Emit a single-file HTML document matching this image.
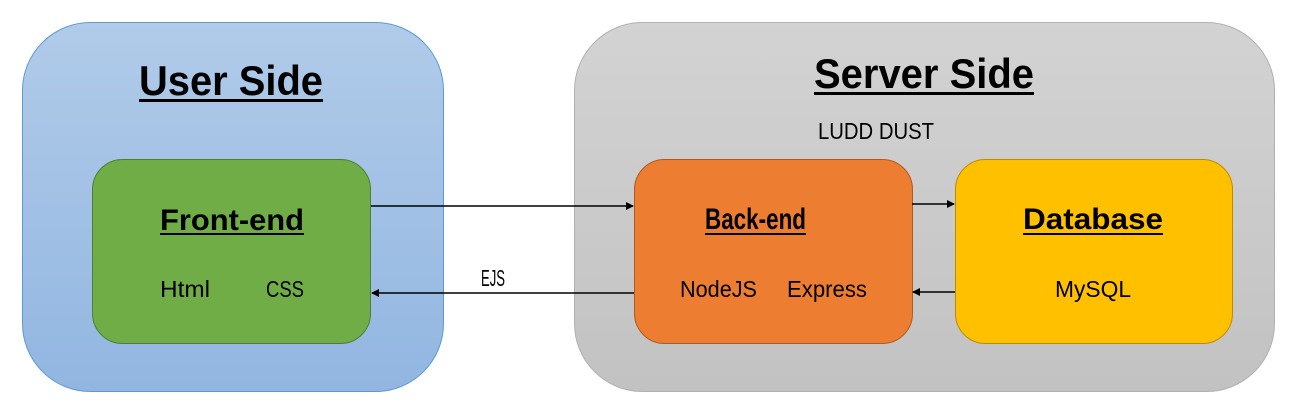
<!DOCTYPE html>
<html><head><style>html,body{margin:0;padding:0;background:#fff;}svg{display:block}</style></head>
<body>
<svg width="1303" height="418" xmlns="http://www.w3.org/2000/svg" font-family="Liberation Sans, sans-serif">
<defs>
<linearGradient id="gb" x1="0" y1="0" x2="0" y2="1"><stop offset="0" stop-color="#b1cbe9"/><stop offset="1" stop-color="#92b6e1"/></linearGradient>
<linearGradient id="gg" x1="0" y1="0" x2="0" y2="1"><stop offset="0" stop-color="#d3d3d3"/><stop offset="1" stop-color="#c2c2c2"/></linearGradient>
<marker id="a" markerWidth="8" markerHeight="8" refX="7" refY="4" orient="auto" markerUnits="userSpaceOnUse"><path d="M0,0 L8,4 L0,8 z" fill="#000"/></marker>
</defs>
<rect x="22.5" y="22.5" width="421" height="369" rx="68" fill="url(#gb)" stroke="#5b9bd5"/>
<rect x="574.5" y="22.5" width="700" height="369" rx="68" fill="url(#gg)" stroke="#b0b0b0"/>
<rect x="92.5" y="159.5" width="278" height="184" rx="30" fill="#70ad47" stroke="#507e32"/>
<rect x="634.5" y="159.5" width="278" height="184" rx="30" fill="#ed7d31" stroke="#ae5a21"/>
<rect x="955.5" y="159.5" width="277" height="184" rx="30" fill="#ffc000" stroke="#bc8c00"/>
<g font-weight="bold" fill="#000">
<text x="139" y="95" font-size="42" textLength="184" lengthAdjust="spacingAndGlyphs">User Side</text>
<rect x="139" y="99" width="184" height="3"/>
<text x="814" y="88" font-size="42" textLength="220" lengthAdjust="spacingAndGlyphs">Server Side</text>
<rect x="814" y="92" width="220" height="3"/>
<text x="160" y="230" font-size="30" textLength="144" lengthAdjust="spacingAndGlyphs">Front-end</text>
<rect x="160" y="233" width="144" height="2"/>
<text x="705" y="229" font-size="30" textLength="101" lengthAdjust="spacingAndGlyphs">Back-end</text>
<rect x="705" y="233" width="101" height="2"/>
<text x="1023" y="229" font-size="30" textLength="140" lengthAdjust="spacingAndGlyphs">Database</text>
<rect x="1023" y="233" width="140" height="2"/>
</g>
<g font-size="23" fill="#000">
<text x="160" y="297" textLength="50" lengthAdjust="spacingAndGlyphs">Html</text>
<text x="266" y="297" textLength="38" lengthAdjust="spacingAndGlyphs">CSS</text>
<text x="481" y="286" textLength="24" lengthAdjust="spacingAndGlyphs">EJS</text>
<text x="680" y="297" textLength="77" lengthAdjust="spacingAndGlyphs">NodeJS</text>
<text x="787" y="297" textLength="80" lengthAdjust="spacingAndGlyphs">Express</text>
<text x="1055" y="297" textLength="76" lengthAdjust="spacingAndGlyphs">MySQL</text>
<text x="818" y="139" textLength="116" lengthAdjust="spacingAndGlyphs">LUDD DUST</text>
</g>
<g stroke="#000" stroke-width="1.5">
<line x1="371" y1="206" x2="633" y2="206" marker-end="url(#a)"/>
<line x1="634" y1="293" x2="372" y2="293" marker-end="url(#a)"/>
<line x1="912" y1="204" x2="954" y2="204" marker-end="url(#a)"/>
<line x1="955" y1="292" x2="913" y2="292" marker-end="url(#a)"/>
</g>
</svg>
</body></html>
